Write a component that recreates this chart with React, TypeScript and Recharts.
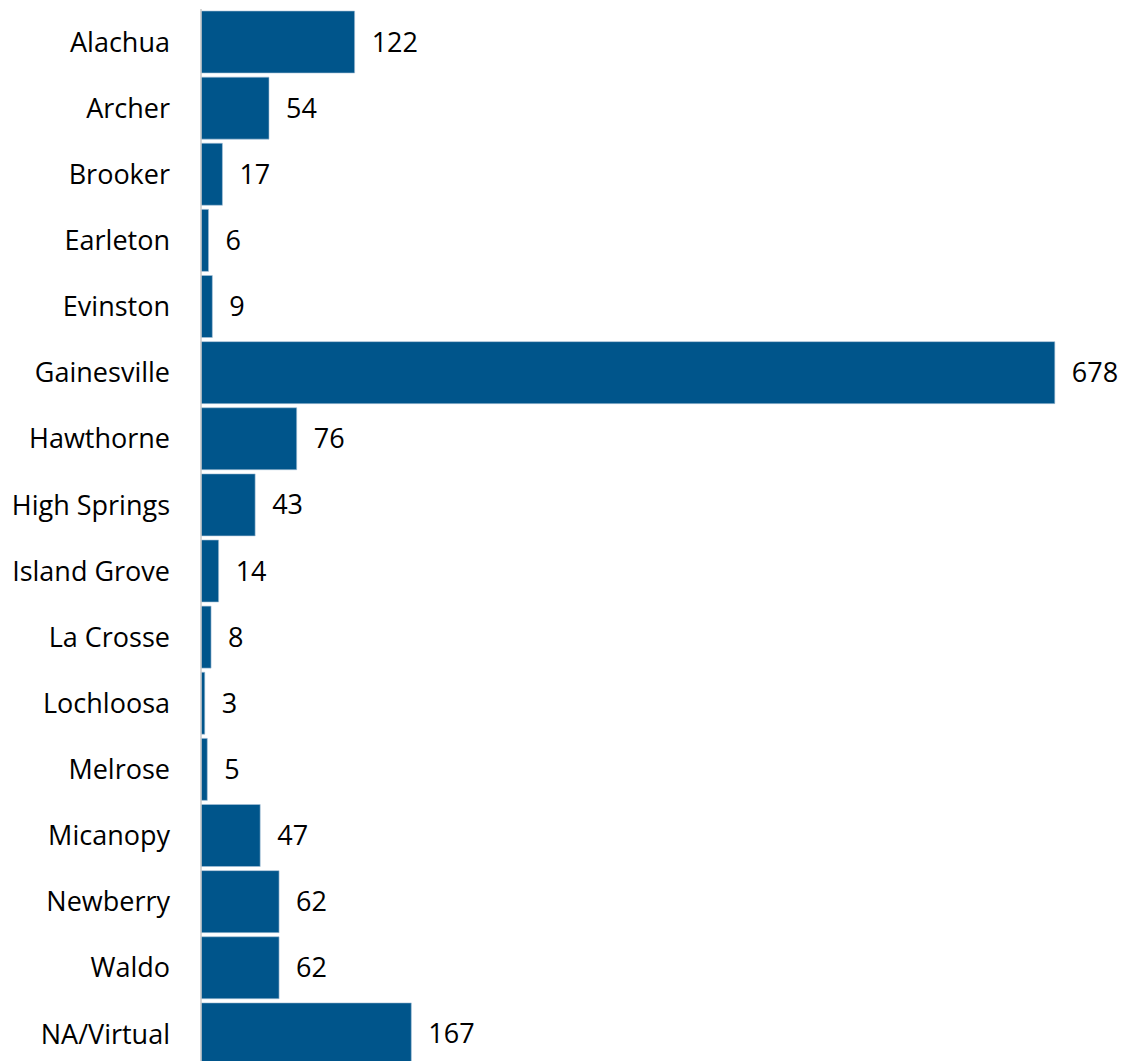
import React from 'react';
import { BarChart, Bar, XAxis, YAxis, LabelList } from 'recharts';

const places = [
  'Alachua',
  'Archer',
  'Brooker',
  'Earleton',
  'Evinston',
  'Gainesville',
  'Hawthorne',
  'High Springs',
  'Island Grove',
  'La Crosse',
  'Lochloosa',
  'Melrose',
  'Micanopy',
  'Newberry',
  'Waldo',
  'NA/Virtual',
];

const counts = [122, 54, 17, 6, 9, 678, 76, 43, 14, 8, 3, 5, 47, 62, 62, 167];

const data = places.map((place, i) => ({ place, count: counts[i] }));

const FONT = '"Open Sans", sans-serif';

export default function App() {
  return (
    <div style={{ position: 'absolute', left: 0, top: 0, width: 1121, height: 1061, overflow: 'hidden', background: '#fff' }}>
      <BarChart
        width={1121}
        height={1067}
        data={data}
        layout="vertical"
        margin={{ top: 9, right: 41, bottom: 0, left: 0 }}
        barCategoryGap={2}
      >
        <XAxis type="number" domain={[0, 698]} hide />
        <YAxis
          type="category"
          dataKey="place"
          width={201}
          tickSize={0}
          tickMargin={31}
          tickLine={false}
          axisLine={{ stroke: '#c8c8c8', strokeWidth: 1.5 }}
          interval={0}
          tick={{ fontSize: 27, fill: '#000', fontFamily: FONT }}
        />
        <Bar dataKey="count" fill="#00558b" stroke="#a9c2d8" strokeWidth={0.6} isAnimationActive={false}>
          <LabelList
            dataKey="count"
            position="right"
            offset={17}
            style={{ fontSize: 27, fill: '#000', fontFamily: FONT }}
          />
        </Bar>
      </BarChart>
    </div>
  );
}
